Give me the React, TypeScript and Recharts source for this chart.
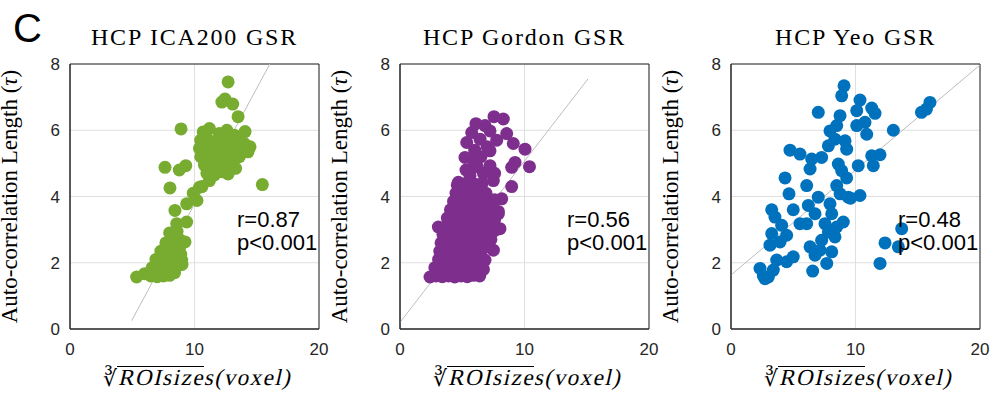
import React from 'react';
import {
  ScatterChart,
  Scatter,
  XAxis,
  YAxis,
  CartesianGrid,
  ReferenceLine,
  ReferenceArea,
} from 'recharts';

// Panel titles, colours and stats
const titles = ['HCP ICA200 GSR', 'HCP Gordon GSR', 'HCP Yeo GSR'];
const colors = ['#77AC30', '#7E2F8E', '#0072BD'];
const rValues = ['r=0.87', 'r=0.56', 'r=0.48'];
const pValues = ['p<0.001', 'p<0.001', 'p<0.001'];

const xTicks = [0, 10, 20];
const yTicks = [0, 2, 4, 6, 8];

// least-squares lines (start, end)
const fitLines = [
  [[4.95, 0.25], [16.05, 8]],
  [[0, 0.2], [15.1, 7.55]],
  [[0, 1.63], [20, 7.97]],
];

// [cube root of ROI size, auto-correlation length]
const ica200Points = [
  [12.7, 7.46], [12.45, 6.94], [13.07, 6.79], [12.2, 6.85], [13.5, 6.41], [8.92, 6.04],
  [14.06, 5.96], [14.46, 5.5], [7.63, 4.88], [8.78, 4.8], [9.3, 4.93], [8.03, 4.26],
  [15.45, 4.36], [10.4, 4.28], [11.2, 4.48], [10.6, 4.3], [9.9, 4.1],
  [8.43, 3.58], [9.37, 3.78], [10.2, 3.88], [8.57, 3.18], [9.37, 3.23], [8.43, 2.68],
  [9.24, 2.63], [7.5, 2.38], [8.97, 2.08], [5.35, 1.57], [6.0, 1.67],
  [10.7, 5.95], [11.2, 6.05], [12.0, 5.9], [12.6, 6.0], [13.2, 5.85],
  [10.5, 5.7], [11.0, 5.75], [11.5, 5.65], [12.0, 5.7], [12.5, 5.72], [13.0, 5.68], [13.5, 5.75], [14.0, 5.6],
  [10.4, 5.45], [10.9, 5.4], [11.4, 5.5], [11.9, 5.42], [12.4, 5.45], [12.9, 5.5], [13.4, 5.4], [14.3, 5.35],
  [10.5, 5.2], [11.0, 5.15], [11.5, 5.22], [12.0, 5.18], [12.5, 5.2], [13.0, 5.12], [13.6, 5.2],
  [10.8, 4.95], [11.3, 4.9], [11.8, 5.0], [12.3, 4.92], [12.8, 4.95], [13.3, 4.85],
  [11.0, 4.7], [11.6, 4.65], [12.2, 4.75], [12.7, 4.68],
  [6.5, 1.6], [7.0, 1.58], [7.5, 1.6], [8.0, 1.62], [8.4, 1.7],
  [6.6, 1.85], [7.1, 1.82], [7.6, 1.88], [8.1, 1.85], [8.6, 1.9], [9.0, 1.95],
  [6.9, 2.1], [7.4, 2.12], [7.9, 2.08], [8.4, 2.15], [8.9, 2.25],
  [7.3, 2.35], [7.8, 2.38], [8.3, 2.4], [8.8, 2.45],
  [7.7, 2.6], [8.2, 2.62], [8.8, 2.7], [8.0, 2.9], [8.6, 2.95],
];

const gordonPoints = [
  [7.55, 6.41], [8.3, 6.34], [6.83, 6.14], [5.76, 5.93], [7.23, 5.98], [8.57, 5.9],
  [5.36, 5.63], [6.43, 5.73], [7.77, 5.7], [9.1, 5.6], [10.04, 5.43], [5.22, 5.18],
  [7.23, 5.38], [9.24, 5.03], [10.4, 4.9], [8.97, 4.88], [5.89, 5.08], [7.23, 4.93],
  [5.62, 4.63], [7.5, 4.48], [8.97, 4.3], [4.69, 4.43], [8.17, 3.93], [7.9, 3.48],
  [8.03, 3.03], [3.08, 3.08], [7.5, 2.38], [6.83, 2.08], [2.41, 1.57],
  [6.0, 5.4], [6.5, 5.2], [6.2, 4.9], [6.7, 4.7], [5.3, 4.8], [7.0, 5.5], [6.1, 6.2], [7.6, 4.7],
  [2.9, 1.6], [3.4, 1.58], [3.9, 1.6], [4.4, 1.57], [4.9, 1.6], [5.4, 1.58], [5.9, 1.62], [6.4, 1.6],
  [2.8, 1.85], [3.3, 1.88], [3.8, 1.84], [4.3, 1.86], [4.8, 1.9], [5.3, 1.85], [5.8, 1.88], [6.3, 1.85], [6.7, 1.8],
  [3.1, 2.1], [3.6, 2.12], [4.1, 2.08], [4.6, 2.1], [5.1, 2.14], [5.6, 2.1], [6.1, 2.12], [6.5, 2.15],
  [3.2, 2.35], [3.7, 2.38], [4.2, 2.34], [4.7, 2.36], [5.2, 2.4], [5.7, 2.35], [6.2, 2.38], [6.6, 2.4], [7.0, 2.5],
  [3.3, 2.6], [3.8, 2.62], [4.3, 2.58], [4.8, 2.62], [5.3, 2.6], [5.8, 2.64], [6.3, 2.6], [6.8, 2.66], [7.3, 2.7],
  [3.45, 2.85], [3.9, 2.88], [4.4, 2.84], [4.9, 2.86], [5.4, 2.9], [5.9, 2.85], [6.4, 2.88], [6.9, 2.9], [7.5, 2.95],
  [3.7, 3.1], [4.2, 3.12], [4.7, 3.08], [5.2, 3.1], [5.7, 3.14], [6.2, 3.1], [6.7, 3.12], [7.2, 3.15], [7.7, 3.0],
  [3.8, 3.35], [4.3, 3.38], [4.8, 3.34], [5.3, 3.36], [5.8, 3.4], [6.3, 3.35], [6.8, 3.38], [7.3, 3.4], [7.6, 3.3],
  [4.05, 3.6], [4.5, 3.62], [5.0, 3.58], [5.5, 3.62], [6.0, 3.6], [6.5, 3.64], [7.0, 3.6], [7.4, 3.7], [7.9, 3.55],
  [4.3, 3.85], [4.8, 3.88], [5.3, 3.84], [5.8, 3.86], [6.3, 3.9], [6.8, 3.85], [7.2, 3.88], [7.6, 3.9],
  [4.5, 4.1], [5.0, 4.12], [5.5, 4.08], [6.0, 4.1], [6.5, 4.14], [6.9, 4.1],
  [4.6, 4.35], [5.1, 4.38], [5.6, 4.34], [6.1, 4.36], [6.6, 4.4],
];

const yeoPoints = [
  [9.08, 7.34], [8.89, 7.04], [10.36, 6.91], [10.1, 6.59], [11.3, 6.67], [11.57, 6.51],
  [7.01, 6.54], [8.76, 6.44], [15.98, 6.84], [15.3, 6.54], [15.7, 6.64], [13.04, 6.0],
  [10.76, 6.24], [10.1, 6.14], [7.95, 5.98], [8.49, 6.14], [10.9, 5.88], [8.35, 5.73],
  [9.16, 5.68], [7.82, 5.53], [9.29, 5.43], [4.74, 5.4], [5.54, 5.28], [6.48, 5.13],
  [7.28, 5.18], [11.3, 5.23], [11.97, 5.26], [6.35, 4.83], [8.62, 4.98], [10.22, 4.93],
  [11.43, 4.93], [8.89, 4.78], [4.34, 4.56], [9.29, 4.56], [6.08, 4.33], [8.49, 4.33],
  [4.66, 4.08], [7.01, 3.98], [8.76, 4.08], [9.42, 3.98], [10.36, 4.03], [9.6, 3.95],
  [6.21, 3.73], [7.95, 3.78], [5.0, 3.6], [3.27, 3.6], [6.75, 3.48], [8.09, 3.48],
  [3.53, 3.38], [5.54, 3.18], [6.08, 3.18], [9.02, 3.23], [4.07, 3.13], [7.55, 3.18],
  [8.49, 3.08], [13.71, 3.03], [3.27, 2.88], [4.47, 2.83], [7.82, 2.93], [7.28, 2.68],
  [8.35, 2.78], [3.94, 2.63], [12.37, 2.6], [13.44, 2.48], [3.13, 2.53], [6.35, 2.48],
  [7.15, 2.38], [8.09, 2.33], [5.0, 2.18], [3.67, 2.08], [4.47, 2.03], [6.75, 2.23],
  [7.69, 1.98], [11.97, 1.98], [2.33, 1.83], [3.4, 1.78], [6.56, 1.75], [2.73, 1.52],
  [3.0, 1.57], [2.6, 1.6],
];

const panelPoints = [ica200Points, gordonPoints, yeoPoints];

// geometry of the figure
const panelLefts = [70, 400, 731];
const plotW = 249;
const plotTop = 64;
const plotBottom = 329;
const chartW = 330;
const chartH = 393;

const AXIS = '#262626';
const tickStyle = { fill: AXIS, fontSize: 17, fontFamily: '"Liberation Sans", Arial, sans-serif' };
const serif = '"Liberation Serif", "Times New Roman", serif';
const sans = '"Liberation Sans", Arial, sans-serif';

function Panel({ index }: { index: number }) {
  const data = panelPoints[index].map(([x, y]) => ({ x, y }));
  const [[x1, y1], [x2, y2]] = fitLines[index];
  const color = colors[index];
  const left = panelLefts[index] - 70;
  return (
    <div style={{ position: 'absolute', left, top: 0 }}>
      <ScatterChart
        width={chartW}
        height={chartH}
        margin={{ top: plotTop, right: chartW - 70 - plotW, bottom: chartH - plotBottom - 30, left: 40 }}
      >
        <CartesianGrid stroke="#dfdfdf" />
        <XAxis
          type="number"
          dataKey="x"
          domain={[0, 20]}
          ticks={xTicks}
          height={30}
          tickSize={0}
          tickMargin={14}
          tickLine={false}
          axisLine={{ stroke: AXIS }}
          tick={tickStyle}
        />
        <YAxis
          type="number"
          dataKey="y"
          domain={[0, 8]}
          ticks={yTicks}
          width={30}
          tickSize={0}
          tickMargin={10}
          tickLine={false}
          axisLine={{ stroke: AXIS }}
          tick={tickStyle}
        />
        <Scatter
          data={data}
          fill={color}
          isAnimationActive={false}
          shape={(p: any) => <circle cx={p.cx} cy={p.cy} r={6.5} fill={color} />}
        />
        <ReferenceLine
          segment={[{ x: x1, y: y1 }, { x: x2, y: y2 }]}
          stroke="#bdbdbd"
          strokeWidth={1}
        />
        <ReferenceArea x1={0} x2={20} y1={0} y2={8} fill="none" stroke={AXIS} strokeWidth={1} />
      </ScatterChart>
    </div>
  );
}

function Labels() {
  return (
    <svg width={994} height={393} style={{ position: 'absolute', left: 0, top: 0, pointerEvents: 'none' }}>
      <text x={13} y={42} fontFamily={sans} fontSize={40} fill="#000">C</text>
      {titles.map((t, i) => {
        const cx = panelLefts[i] + plotW / 2;
        const cy = (plotTop + plotBottom) / 2;
        const xl = panelLefts[i] + 48; // start of "ROIsizes"
        return (
          <g key={t}>
            <text x={cx} y={45} textAnchor="middle" fontFamily={serif} fontSize={24} letterSpacing={1.8} fill="#000">
              {t}
            </text>
            <text
              x={panelLefts[i] - 53}
              y={cy}
              transform={`rotate(-90 ${panelLefts[i] - 53} ${cy})`}
              textAnchor="middle"
              fontFamily={serif}
              fontSize={23}
              fill="#000"
            >
              Auto-correlation Length (<tspan fontStyle="italic">τ</tspan>)
            </text>
            {/* cube-root sign */}
            <text x={xl - 1} y={386} textAnchor="end" fontFamily='"DejaVu Serif", serif' fontSize={22} fill="#000">
              ∛
            </text>
            <line x1={xl - 1} x2={xl + 86} y1={366.5} y2={366.5} stroke="#000" strokeWidth={1} />
            {/* math-italic look: upright serif with a slant */}
            <g transform={`translate(${xl} 385) skewX(-13)`}>
              <text x={0} y={0} fontFamily={serif} fontSize={23} letterSpacing={1.5} fill="#000">
                ROIsizes(voxel)
              </text>
            </g>
            <text x={panelLefts[i] + 167} y={227} fontFamily={sans} fontSize={22} fill="#000">{rValues[i]}</text>
            <text x={panelLefts[i] + 167} y={250} fontFamily={sans} fontSize={22} fill="#000">{pValues[i]}</text>
          </g>
        );
      })}
    </svg>
  );
}

export default function App() {
  return (
    <div style={{ position: 'absolute', left: 0, top: 0, width: 994, height: 393, background: '#fff', overflow: 'hidden' }}>
      {titles.map((t, i) => (
        <Panel key={t} index={i} />
      ))}
      <Labels />
    </div>
  );
}
